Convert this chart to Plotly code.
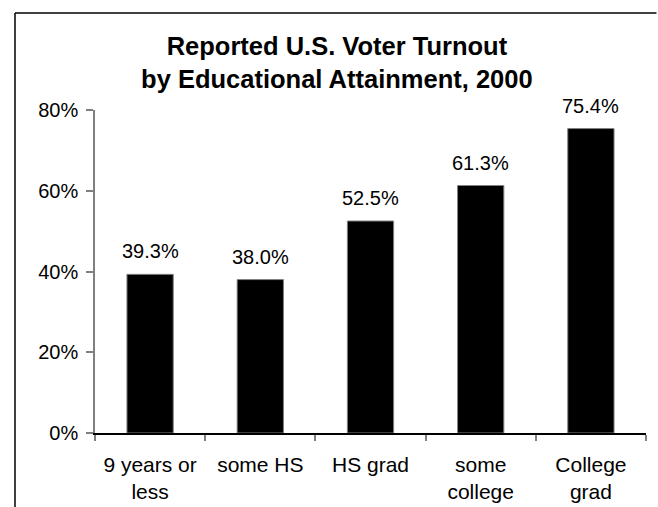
import plotly.graph_objects as go

# Turnout data
categories = ["9 years or<br>less", "some HS", "HS grad", "some<br>college", "College<br>grad"]
turnout = [39.3, 38.0, 52.5, 61.3, 75.4]
y_ticks = [0, 20, 40, 60, 80]
y_tick_text = ["0%", "20%", "40%", "60%", "80%"]

FONT = "Liberation Sans, Arial, sans-serif"

fig = go.Figure()
fig.add_trace(go.Bar(
    x=categories,
    y=turnout,
    width=0.42,
    marker=dict(color="black", line=dict(color="#808080", width=1)),
    hoverinfo="skip",
))

# value labels above the bars
for c, v in zip(categories, turnout):
    fig.add_annotation(
        x=c, y=v, text=f"{v:.1f}%", showarrow=False,
        yanchor="bottom", yshift=10,
        font=dict(family=FONT, size=20, color="black"),
    )

# chart frame (left and top edges; the rest runs off the page)
frame_left, frame_top, frame_right, frame_bottom = -0.1452, 1.3003, 1.019, -0.4
for x0, y0, x1, y1 in [(frame_left, frame_bottom, frame_left, frame_top),
                       (frame_left, frame_top, frame_right, frame_top)]:
    fig.add_shape(type="line", xref="paper", yref="paper",
                  x0=x0, y0=y0, x1=x1, y1=y1,
                  line=dict(color="black", width=1.5), layer="below")

fig.update_layout(
    width=658, height=507,
    margin=dict(l=95, r=12, t=110, b=74),
    paper_bgcolor="white", plot_bgcolor="white",
    showlegend=False,
    font=dict(family=FONT, size=20, color="black"),
    title=dict(
        text="<b>Reported U.S. Voter Turnout<br>by Educational Attainment, 2000</b>",
        xref="container", x=0.512, xanchor="center",
        yref="container", y=1 - 55 / 507, yanchor="middle",
        font=dict(family=FONT, size=25.5, color="black"),
    ),
    xaxis=dict(
        type="category",
        tickson="boundaries",
        ticks="outside", ticklen=6, tickwidth=1.5, tickcolor="#808080",
        showline=True, linecolor="black", linewidth=1.5,
        showgrid=False, zeroline=False,
        tickfont=dict(family=FONT, size=21, color="black"),
        ticklabelstandoff=12,
        automargin=False,
        fixedrange=True,
    ),
    yaxis=dict(
        range=[0, 80],
        tickvals=y_ticks, ticktext=y_tick_text,
        ticks="outside", ticklen=7, tickwidth=1.5, tickcolor="#808080",
        showline=True, linecolor="#808080", linewidth=1.5,
        showgrid=False, zeroline=False,
        tickfont=dict(family=FONT, size=20, color="black"),
        ticklabelstandoff=4,
        automargin=False,
        fixedrange=True,
    ),
)

fig.write_html("out.html", config={"displayModeBar": False})
